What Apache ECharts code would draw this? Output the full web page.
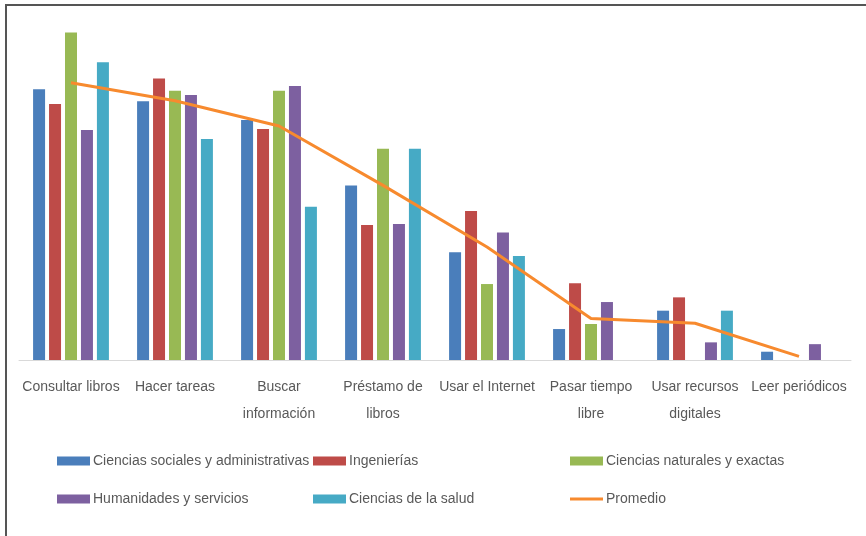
<!DOCTYPE html>
<html>
<head>
<meta charset="utf-8">
<script src="https://cdn.jsdelivr.net/npm/echarts@6/dist/echarts.min.js"></script>
<style>
  html, body { margin: 0; padding: 0; background: #fff; }
  #chart { width: 866px; height: 536px; }
</style>
</head>
<body>
<div id="chart"></div>
<script>
const categories = ['Consultar libros', 'Hacer tareas', 'Buscar\ninformación', 'Préstamo de\nlibros',
  'Usar el Internet', 'Pasar tiempo\nlibre', 'Usar recursos\ndigitales', 'Leer periódicos'];
const sociales = [75.2, 71.9, 66.7, 48.5, 29.9, 8.6, 13.7, 2.3];
const ingenierias = [71.1, 78.2, 64.2, 37.5, 41.4, 21.3, 17.4, 0];
const naturales = [91.0, 74.8, 74.8, 58.7, 21.1, 10.0, 0, 0];
const humanidades = [63.9, 73.6, 76.1, 37.8, 35.4, 16.1, 4.9, 4.4];
const salud = [82.7, 61.4, 42.6, 58.7, 28.9, 0, 13.7, 0];
const promedio = [77, 72, 65, 48.5, 31.4, 11.5, 10.2, 1];

const font = "'Liberation Sans Narrow', 'Liberation Sans', sans-serif";
const textGray = '#595959';
const orange = '#f78a2e';

const chart = echarts.init(document.getElementById('chart'));

function bar(name, data, color) {
  return {
    name: name,
    type: 'bar',
    data: data,
    barWidth: 12,
    barGap: '33%',
    itemStyle: { color: color },
  };
}

function legendAt(name, left, top, h) {
  return {
    data: [{ name: name, icon: 'rect' }],
    left: left,
    top: top,
    itemWidth: 33,
    itemHeight: h || 9,
    textStyle: { color: textGray, fontSize: 14, fontFamily: font, padding: [0, 0, 0, -2] },
  };
}

chart.setOption({
  animation: false,
  grid: { left: 19, right: 15, top: 0, bottom: 176 },
  xAxis: {
    type: 'category',
    data: categories,
    axisLine: { lineStyle: { color: '#d9d9d9', width: 1 } },
    axisTick: { show: false },
    axisLabel: {
      interval: 0,
      margin: 14,
      color: textGray,
      fontSize: 14,
      lineHeight: 27,
      fontFamily: font,
    },
  },
  yAxis: {
    type: 'value',
    min: 0,
    max: 100,
    show: false,
  },
  legend: [
    legendAt('Ciencias sociales y administrativas', 52, 449),
    legendAt('Ingenierías', 308, 449),
    legendAt('Ciencias naturales y exactas', 565, 449),
    legendAt('Humanidades y servicios', 52, 487),
    legendAt('Ciencias de la salud', 308, 487),
    legendAt('Promedio', 565, 487, 3),
  ],
  graphic: [
    {
      type: 'polyline',
      shape: { points: [[6, 536], [6, 5], [866, 5]] },
      style: { stroke: '#555', lineWidth: 2, fill: null },
    },
  ],
  series: [
    bar('Ciencias sociales y administrativas', sociales, '#4a7ebb'),
    bar('Ingenierías', ingenierias, '#be4b48'),
    bar('Ciencias naturales y exactas', naturales, '#98b954'),
    bar('Humanidades y servicios', humanidades, '#7d60a0'),
    bar('Ciencias de la salud', salud, '#46aac5'),
    {
      name: 'Promedio',
      type: 'line',
      data: promedio,
      symbol: 'none',
      lineStyle: { color: orange, width: 3 },
      itemStyle: { color: orange },
      z: 5,
    },
  ],
});
</script>
</body>
</html>
